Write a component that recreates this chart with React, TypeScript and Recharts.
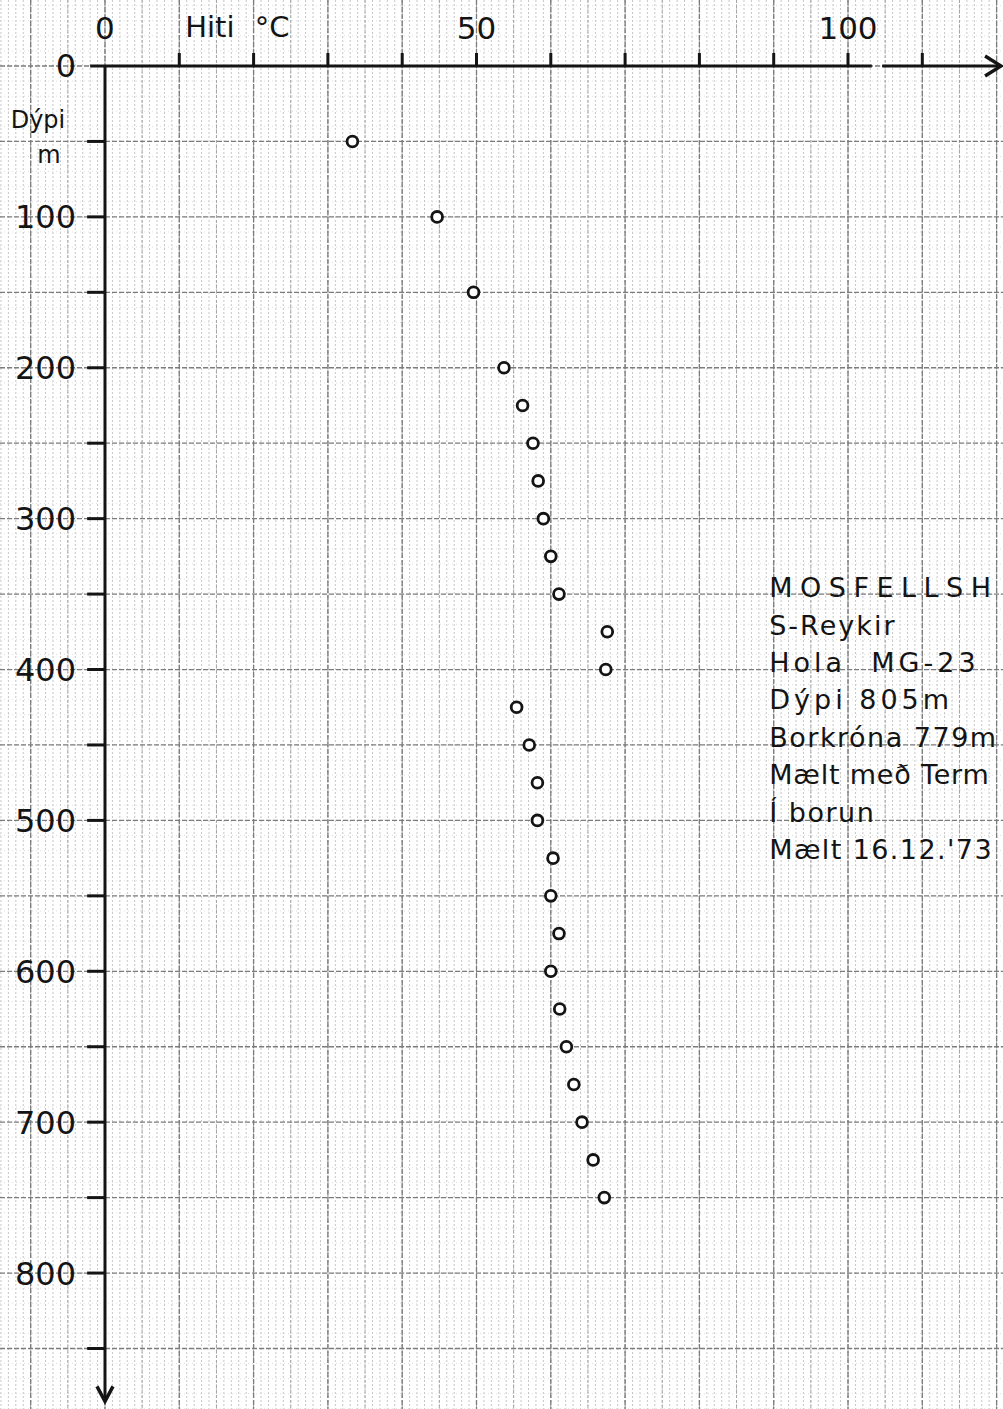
import React from 'react';
import {
  ScatterChart,
  Scatter,
  XAxis,
  YAxis,
  CartesianGrid,
  ReferenceLine,
  ReferenceDot,
} from 'recharts';

// Hiti (°C) á hverju dýpi (m), lesið af ritinu
const depths = [50, 100, 150, 200, 225, 250, 275, 300, 325, 350, 375, 400, 425, 450, 475, 500, 525, 550, 575, 600, 625, 650, 675, 700, 725, 750];
const temps = [33.3, 44.7, 49.6, 53.7, 56.2, 57.6, 58.3, 59.0, 60.0, 61.1, 67.6, 67.4, 55.4, 57.1, 58.2, 58.2, 60.3, 60.0, 61.1, 60.0, 61.2, 62.1, 63.1, 64.2, 65.7, 67.2];

const tempLabels = [0, 50, 100];
const tempTickMarks = [10, 20, 30, 40, 50, 60, 70, 80, 90, 100, 110];
const depthLabels = [0, 100, 200, 300, 400, 500, 600, 700, 800];
const depthTickMarks = [50, 100, 150, 200, 250, 300, 350, 400, 450, 500, 550, 600, 650, 700, 750, 800, 850];

const noteLines = [
  'MOSFELLSH',
  'S-Reykir',
  'Hola  MG-23',
  'Dýpi 805m',
  'Borkróna 779m',
  'Mælt með Term',
  'Í borun',
  "Mælt 16.12.'73",
];
const noteSpacing = [7.5, 2, 4, 4, 1.5, 0.8, 1.5, 1.4];

const W = 1003;
const H = 1409;
// the paper runs past the axes, so the plot area covers the whole page
const TEMP_MIN = -14.13;
const TEMP_MAX = 120.86;
const DEPTH_MIN = -43.74;
const DEPTH_MAX = 890.1;

const FONT = '"DejaVu Sans", sans-serif';
const INK = '#141414';

const range = (from: number, to: number, step: number) => {
  const out: number[] = [];
  for (let v = from; v <= to + 1e-9; v += step) out.push(Math.round(v * 100) / 100);
  return out;
};

// graph paper lines
const fineTemp = range(-14, 120, 1);
const midTemp = range(-10, 120, 5);
const majorTemp = range(-10, 120, 10);
const fineDepth = range(-40, 890, 10);
const majorDepth = range(0, 850, 50);

const vLines = (values: number[]) => (props: any) => {
  const { xAxis, offset } = props;
  if (xAxis && typeof xAxis.scale === 'function') return values.map((v) => xAxis.scale(v));
  return values.map((v) => offset.left + ((v - TEMP_MIN) / (TEMP_MAX - TEMP_MIN)) * offset.width);
};
const hLines = (values: number[]) => (props: any) => {
  const { yAxis, offset } = props;
  if (yAxis && typeof yAxis.scale === 'function') return values.map((v) => yAxis.scale(v));
  return values.map((v) => offset.top + ((v - DEPTH_MIN) / (DEPTH_MAX - DEPTH_MIN)) * offset.height);
};

export default function App() {
  const points = depths.map((d, i) => ({ depth: d, temp: temps[i] }));

  return (
    <div
      style={{
        position: 'absolute',
        left: 0,
        top: 0,
        width: W,
        height: H,
        overflow: 'hidden',
        background: '#fff',
      }}
    >
      <ScatterChart width={W} height={H} margin={{ top: 0, right: 0, bottom: 0, left: 0 }}>
        <XAxis type="number" dataKey="temp" domain={[TEMP_MIN, TEMP_MAX]} allowDataOverflow hide />
        <YAxis type="number" dataKey="depth" domain={[DEPTH_MIN, DEPTH_MAX]} reversed allowDataOverflow hide />

        <CartesianGrid vertical={false} horizontalCoordinatesGenerator={hLines(fineDepth)} stroke="#dedede" strokeDasharray="1 3" />
        <CartesianGrid horizontal={false} verticalCoordinatesGenerator={vLines(fineTemp)} stroke="#c6c6c6" strokeDasharray="2 2" />
        <CartesianGrid horizontal={false} verticalCoordinatesGenerator={vLines(midTemp)} stroke="#a4a4a4" strokeDasharray="3 2" />
        <CartesianGrid
          verticalCoordinatesGenerator={vLines(majorTemp)}
          horizontalCoordinatesGenerator={hLines(majorDepth)}
          stroke="#7c7c7c"
          strokeDasharray="5 2"
          strokeWidth={1.3}
        />

        {/* axes */}
        <ReferenceLine segment={[{ x: -2, y: 0 }, { x: 103.2, y: 0 }]} stroke={INK} strokeWidth={3} />
        <ReferenceLine segment={[{ x: 104.6, y: 0 }, { x: 120.6, y: 0 }]} stroke={INK} strokeWidth={3} />
        <ReferenceLine segment={[{ x: 0, y: 0 }, { x: 0, y: 885 }]} stroke={INK} strokeWidth={3} />
        <ReferenceDot
          x={120.6}
          y={0}
          shape={(p: any) => (
            <path d={`M${p.cx - 16},${p.cy - 10} L${p.cx},${p.cy} L${p.cx - 16},${p.cy + 10}`} fill="none" stroke={INK} strokeWidth={3.5} />
          )}
        />
        <ReferenceDot
          x={0}
          y={885}
          shape={(p: any) => (
            <path d={`M${p.cx - 8},${p.cy - 15} L${p.cx},${p.cy} L${p.cx + 8},${p.cy - 15}`} fill="none" stroke={INK} strokeWidth={3.5} />
          )}
        />

        {tempTickMarks.map((t) => (
          <ReferenceLine key={`tt${t}`} segment={[{ x: t, y: 0 }, { x: t, y: -8.6 }]} stroke={INK} strokeWidth={3} />
        ))}
        {depthTickMarks.map((d) => (
          <ReferenceLine key={`dt${d}`} segment={[{ x: 0, y: d }, { x: -2.4, y: d }]} stroke={INK} strokeWidth={3} />
        ))}

        {tempLabels.map((t) => (
          <ReferenceDot
            key={`tl${t}`}
            x={t}
            y={0}
            shape={(p: any) => (
              <text x={p.cx} y={p.cy - 27} textAnchor="middle" fontSize={31} fontFamily={FONT} fill={INK}>
                {t}
              </text>
            )}
          />
        ))}
        {depthLabels.map((d) => (
          <ReferenceDot
            key={`dl${d}`}
            x={0}
            y={d}
            shape={(p: any) => (
              <text x={p.cx - 29} y={p.cy + 11.5} textAnchor="end" fontSize={32} fontFamily={FONT} fill={INK}>
                {d}
              </text>
            )}
          />
        ))}

        {/* axis titles */}
        <ReferenceDot
          x={10.8}
          y={0}
          shape={(p: any) => (
            <text x={p.cx} y={p.cy - 29} fontSize={29} fontFamily={FONT} fill={INK}>
              <tspan>Hiti </tspan>
              <tspan dx={11}>°C</tspan>
            </text>
          )}
        />
        <ReferenceDot
          x={0}
          y={41}
          shape={(p: any) => (
            <text fontSize={24} fontFamily={FONT} fill={INK} textAnchor="middle">
              <tspan x={p.cx - 67} y={p.cy}>Dýpi</tspan>
              <tspan x={p.cx - 56} y={p.cy + 35}>m</tspan>
            </text>
          )}
        />

        {/* note block */}
        <ReferenceDot
          x={89.4}
          y={352}
          shape={(p: any) => (
            <text fontSize={27} fontFamily={FONT} fill={INK} style={{ whiteSpace: 'pre' }}>
              {noteLines.map((line, i) => (
                <tspan key={i} x={p.cx} y={p.cy + i * 37.4} style={{ letterSpacing: noteSpacing[i] }}>
                  {line}
                </tspan>
              ))}
            </text>
          )}
        />

        <Scatter
          data={points}
          isAnimationActive={false}
          shape={(p: any) => <circle cx={p.cx} cy={p.cy} r={5.4} fill="#fff" stroke={INK} strokeWidth={2.8} />}
        />
      </ScatterChart>
    </div>
  );
}
